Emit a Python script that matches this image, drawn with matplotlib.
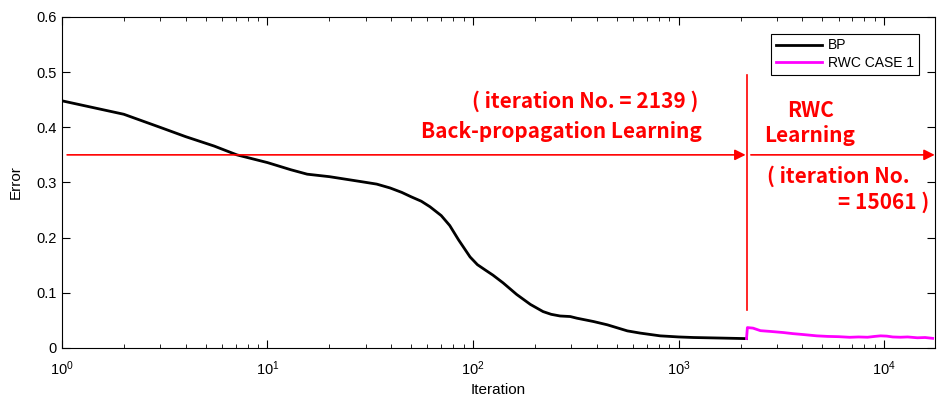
import numpy as np
import matplotlib
matplotlib.use("Agg")
import matplotlib.pyplot as plt

plt.rcParams['font.family'] = ['Liberation Sans', 'DejaVu Sans']

# BP learning curve
bp_iter = [1, 2, 3, 4, 5.5, 7.1, 10, 13, 15.6, 20, 28, 34, 39.5, 45, 50, 56, 61.7, 70,
           77, 85, 96.7, 105, 115, 125, 140, 163, 190, 219, 240, 265, 297, 320, 385,
           450, 563, 650, 813, 1000, 1180, 1600, 2139]
bp_err = [0.448, 0.4236, 0.40, 0.383, 0.366, 0.35, 0.336, 0.323, 0.315, 0.3105, 0.302,
          0.297, 0.290, 0.282, 0.274, 0.266, 0.256, 0.24, 0.222, 0.196, 0.165, 0.151,
          0.141, 0.132, 0.118, 0.097, 0.079, 0.066, 0.061, 0.058, 0.057, 0.054, 0.048,
          0.042, 0.031, 0.027, 0.022, 0.020, 0.019, 0.018, 0.017]

# RWC case 1 curve
rwc_iter = [2139, 2160, 2300, 2500, 2800, 3230, 3600, 4000, 4700, 5300, 6000, 6800,
            7500, 8300, 9000, 9600, 10300, 11000, 12000, 13000, 14500, 15800, 17200]
rwc_err = [0.017, 0.037, 0.036, 0.0314, 0.030, 0.028, 0.026, 0.0245, 0.022, 0.021,
           0.0205, 0.0194, 0.020, 0.0195, 0.021, 0.022, 0.0215, 0.020, 0.0195, 0.020,
           0.0185, 0.019, 0.0175]

bp_end = 2139
x_max = 17700

fig = plt.figure(figsize=(9.38, 4.03), dpi=100)
ax = fig.add_axes([0.066, 0.1365, 0.931, 0.8215])

ax.plot(bp_iter, bp_err, color='black', lw=2, label='BP')
ax.plot(rwc_iter, rwc_err, color='magenta', lw=2, label='RWC CASE 1')

ax.set_xscale('log')
ax.set_xlim(1, x_max)
ax.set_ylim(0, 0.6)
ax.set_yticks(np.arange(0, 0.61, 0.1))
ax.set_yticklabels(['0', '0.1', '0.2', '0.3', '0.4', '0.5', '0.6'])
ax.tick_params(which='both', direction='in', top=True, right=True, labelsize=10.5)
ax.tick_params(axis='x', pad=8)
ax.tick_params(which='major', length=6)
ax.tick_params(which='minor', length=3)
ax.set_xlabel('Iteration', fontsize=11, labelpad=4)
ax.set_ylabel('Error', fontsize=11, labelpad=10)

leg = ax.legend(loc='upper right', fontsize=10, fancybox=False, edgecolor='black',
                framealpha=1, handlelength=3.3, handletextpad=0.4, borderaxespad=1.2,
                borderpad=0.35, labelspacing=0.25)
leg.get_frame().set_linewidth(0.8)

# red annotations
red = '#ff0000'
arrow = dict(arrowstyle='-|>', color=red, lw=1.2, mutation_scale=16, shrinkA=0, shrinkB=0)
ax.annotate('', xy=(bp_end * 0.99, 0.35), xytext=(1.06, 0.35), arrowprops=arrow)
ax.annotate('', xy=(x_max * 0.995, 0.35), xytext=(bp_end * 1.05, 0.35), arrowprops=arrow)
ax.plot([bp_end, bp_end], [0.069, 0.495], color=red, lw=1.2)

tfont = dict(color=red, fontsize=15, fontweight='bold', ha='center', va='center',
             family=['Noto Sans CJK KR', 'DejaVu Sans'])
ax.text(351, 0.4465, '( iteration No. = 2139 )', **tfont)
ax.text(268, 0.392, 'Back-propagation Learning', **tfont)
ax.text(4360, 0.431, 'RWC', **tfont)
ax.text(4360, 0.386, 'Learning', **tfont)
ax.text(5970, 0.3105, '( iteration No.', **tfont)
ax.text(9890, 0.265, '= 15061 )', **tfont)

fig.savefig('out.png', dpi=100)
